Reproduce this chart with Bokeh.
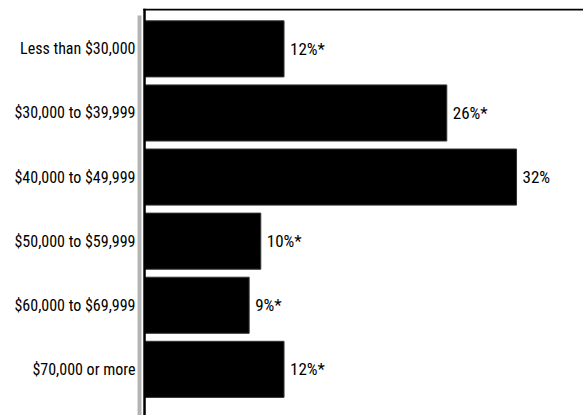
from bokeh.plotting import figure
from bokeh.models import ColumnDataSource, Range1d, FixedTicker, Span, BoxAnnotation
from bokeh.core.properties import value
from bokeh.embed import file_html
from bokeh.resources import INLINE

categories = ["Less than $30,000", "$30,000 to $39,999", "$40,000 to $49,999",
              "$50,000 to $59,999", "$60,000 to $69,999", "$70,000 or more"]
percents = [12, 26, 32, 10, 9, 12]
labels = ["12%*", "26%*", "32%", "10%*", "9%*", "12%*"]

FONT = "'Liberation Sans Narrow', 'Roboto Condensed', 'DejaVu Sans Condensed', sans-serif"

idx = list(range(len(categories)))
src = ColumnDataSource(dict(y=idx, v=percents, lab=labels))

p = figure(width=583, height=415, output_backend="svg", toolbar_location=None,
           x_range=Range1d(-0.69, 37.76), y_range=Range1d(5.72, -0.63),
           min_border_left=136, min_border_right=0, min_border_top=8, min_border_bottom=0)
p.outline_line_color = None
p.xgrid.visible = False
p.ygrid.visible = False
p.xaxis.visible = False

ax = p.yaxis[0]
ax.ticker = FixedTicker(ticks=idx)
ax.major_label_overrides = {i: c for i, c in zip(idx, categories)}
ax.axis_line_color = None
ax.major_tick_line_color = None
ax.minor_tick_line_color = None
ax.major_tick_out = 0
ax.major_label_standoff = 1
ax.major_label_text_font = FONT
ax.major_label_text_font_size = "16px"
ax.major_label_text_color = "black"

p.hbar(y="y", left=0, right="v", height=0.875, source=src,
       fill_color="black", line_color="#333333", line_width=1)
p.text(x="v", y="y", text="lab", source=src, x_offset=6,
       text_align="left", text_baseline="middle",
       text_font=value(FONT), text_font_size="17px", text_color="black")

p.add_layout(BoxAnnotation(left=-0.6, right=-0.26, top=-0.52,
                           fill_color="#b4b4b4", fill_alpha=1, line_color=None))
p.add_layout(Span(location=0, dimension="height", line_color="black", line_width=2.5))
p.add_layout(BoxAnnotation(left=-0.1, bottom=-0.6,
                           fill_color="black", fill_alpha=1, line_color=None))

open("out.html", "w").write(file_html(p, INLINE))
